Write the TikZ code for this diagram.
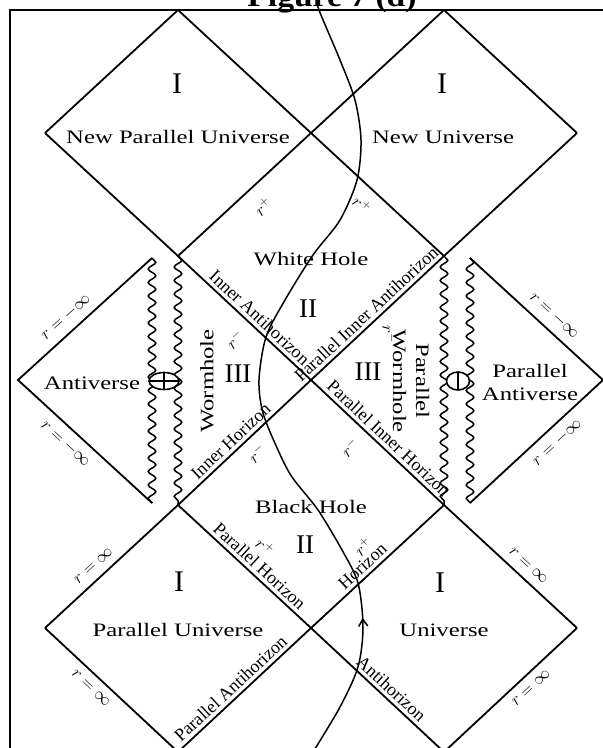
\documentclass[tikz,border=0pt]{standalone}
\usepackage{fontspec}
\setmainfont{Liberation Serif}
\usetikzlibrary{arrows.meta,decorations.pathmorphing,decorations.markings}

\begin{document}
\begin{tikzpicture}[
  x=1pt, y=-1pt,
  nul/.style={line width=1.8pt},
  sing/.style={line width=1.5pt, decorate,
               decoration={snake, segment length=13.5pt, amplitude=3.8pt}},
  reg/.style={font=\fontsize{19}{23}\selectfont, xscale=1.3,
              inner sep=0pt, align=center},
  rom/.style={font=\fontsize{30}{32}\selectfont, inner sep=0pt},
  romb/.style={font=\fontsize{27}{29}\selectfont, inner sep=0pt},
  hzn/.style={font=\fontsize{18}{20}\selectfont, sloped, inner sep=1pt, above=2.5pt},
  rinf/.style={font=\fontsize{16}{18}\selectfont, sloped, inner sep=0pt},
  rpm/.style={font=\fontsize{17}{19}\selectfont, inner sep=0pt},
  wline/.style={line width=1.5pt},
]

% column x and row y of the diamond corners (pixel grid)
\def\xa{45}  \def\xb{178} \def\xc{311} \def\xd{444} \def\xe{577}
\def\ya{10}  \def\yb{133} \def\yc{256} \def\yd{380}
\def\ye{505} \def\yf{628} \def\yg{752}

\useasboundingbox (0,0) rectangle (603,748);
\fill[white] (0,0) rectangle (603,748);
\clip (0,0) rectangle (603,748);

%% ---- CORNERS ----
\coordinate (tA) at (\xb,\ya);  \coordinate (tB) at (\xd,\ya);
\coordinate (lA) at (\xa,\yb);  \coordinate (cT) at (\xc,\yb);  \coordinate (rA) at (\xe,\yb);
\coordinate (wL) at (\xb,\yc);  \coordinate (wR) at (\xd,\yc);
\coordinate (cM) at (\xc,\yd);
\coordinate (bL) at (\xb,\ye);  \coordinate (bR) at (\xd,\ye);
\coordinate (lB) at (\xa,\yf);  \coordinate (cB) at (\xc,\yf);  \coordinate (rB) at (\xe,\yf);
\coordinate (dL) at (\xb,\yg);  \coordinate (dR) at (\xd,\yg);
% antiverses
\coordinate (avT) at (152,258); \coordinate (avL) at (18,380);  \coordinate (avB) at (152,503);
\coordinate (pvT) at (470,258); \coordinate (pvR) at (603,380); \coordinate (pvB) at (470,503);

%% ---- TITLE AND FRAME ----
\node[font=\fontsize{30}{32}\selectfont\bfseries, xscale=1.12, anchor=base]
  (title) at (332,6) {Figure 7 (d)};
\draw[line width=2.8pt] (610,10) -- (10,10) -- (10,760);

%% ---- TOP UNIVERSES ----
\draw[nul] (lA) -- (tA) -- (cT) -- (wR);
\draw[nul] (wL) -- (cT) -- (tB) -- (rA);

%% ---- LONG DIAGONALS ----
\draw[nul] (lA) -- (wL)
  -- node[hzn, pos=.56] (lIAH) {Inner Antihorizon} (cM)
  -- node[hzn, pos=.53] (lPIH) {Parallel Inner Horizon} (bR)
  -- node[rinf, pos=.57, above=8pt] (lRiA) {$r=\infty$} (rB);
\draw[nul] (lB)
  -- node[rinf, pos=.43, above=8pt] (lRiB) {$r=\infty$} (bL)
  -- node[hzn, pos=.45] (lIH) {Inner Horizon} (cM)
  -- node[hzn, pos=.47] (lPIAH) {Parallel Inner Antihorizon} (wR)
  -- (rA);

%% ---- BOTTOM UNIVERSES ----
\draw[nul] (bL)
  -- node[hzn, pos=.56] (lPH) {Parallel Horizon} (cB)
  -- node[hzn, pos=.55] (lAH) {Antihorizon} (dR)
  -- node[rinf, pos=.59, below=8pt] (lRiC) {$r=\infty$} (rB);
\draw[nul] (lB)
  -- node[rinf, pos=.41, below=8pt] (lRiD) {$r=\infty$} (dL)
  -- node[hzn, pos=.45] (lPAH) {Parallel Antihorizon} (cB)
  -- node[hzn, pos=.44] (lH) {Horizon} (bR);

%% ---- ANTIVERSES ----
\draw[nul] (avT)
  -- node[rinf, pos=.57, above=8pt] (lRmA) {$r=-\infty$} (avL)
  -- node[rinf, pos=.43, below=8pt] (lRmB) {$r=-\infty$} (avB);
\draw[nul] (pvT)
  -- node[rinf, pos=.56, above=8pt] (lRmC) {$r=-\infty$} (pvR)
  -- node[rinf, pos=.42, below=8pt] (lRmD) {$r=-\infty$} (pvB);

%% ---- SINGULARITIES ----
\draw[sing] (avT) -- (avB);
\draw[sing] (wL) -- (bL);
\draw[sing] (wR) -- (bR);
\draw[sing] (pvT) -- (pvB);
\filldraw[fill=white, line width=1.6pt] (164,381) ellipse [x radius=15pt, y radius=8.5pt];
\draw[line width=1.3pt] (149,381) -- (179,381) (164,372.5) -- (164,389.5);
\filldraw[fill=white, line width=1.6pt] (458,381) ellipse [x radius=11.5pt, y radius=9pt];
\draw[line width=1.3pt] (458,372) -- (458,390);

%% ---- REGION LABELS ----
\node[rom] (iNW) at (177,84) {I};
\node[rom] (iNE) at (442,84) {I};
\node[reg] (nNPU) at (178,137) {New Parallel Universe};
\node[reg] (nNU) at (443,137) {New Universe};
\node[reg] (nWH) at (311,259) {White Hole};
\node[romb] (iiW) at (308,309) {II};
\node[romb] (iiiL) at (238,374) {III};
\node[romb] (iiiR) at (368,372) {III};
\node[rotate=90, reg] (nWorm) at (207,381) {Wormhole};
\node[rotate=-90, reg] (nPWorm) at (411,381) {Parallel\\Wormhole};
\node[reg] (nAV) at (92,383) {Antiverse};
\node[reg] (nPAV) at (530,382) {Parallel\\Antiverse};
\node[reg] (nBH) at (311,507) {Black Hole};
\node[romb] (iiB) at (305,545) {II};
\node[rom] (iSW) at (179,582) {I};
\node[rom] (iSE) at (440,583) {I};
\node[reg] (nPU) at (178,630) {Parallel Universe};
\node[reg] (nU) at (444,630) {Universe};

%% ---- r LABELS ----
\node[rpm, rotate=43]  (rpA) at (263,207) {$r^{+}$};
\node[rpm, rotate=-43] (rpB) at (362,205) {$r^{+}$};
\node[rpm, rotate=-43] (rpC) at (265,547) {$r^{+}$};
\node[rpm, rotate=43]  (rpD) at (363,547) {$r^{+}$};
\node[rpm, rotate=43]  (rmA) at (235,340) {$r^{-}$};
\node[rpm, rotate=-90] (rmB) at (389,334) {$r^{-}$};
\node[rpm, rotate=43]  (rmC) at (257,454) {$r^{-}$};
\node[rpm, rotate=43]  (rmD) at (350,448) {$r^{-}$};

%% ---- WORLD LINE ----
\draw[wline, postaction={decorate, decoration={markings,
      mark=at position 146pt with {\arrow{Straight Barb[length=7pt,width=9pt]}}}}]
  plot[smooth] coordinates {(313,752) (340,707) (358,667) (363,627) (358,583)
    (342,550) (318,510) (292,477) (278,450) (263,413) (259,380) (266,337)
    (285,300) (313,255) (340,220) (357,180) (361,140) (355,100) (340,60)
    (319,10) (316,-4)};

\end{tikzpicture}
\end{document}
